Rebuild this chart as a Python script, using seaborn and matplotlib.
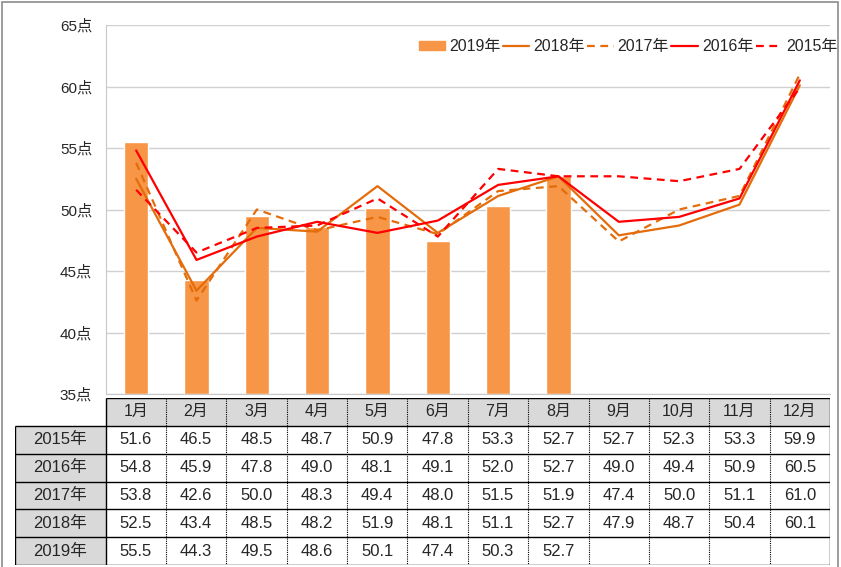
import numpy as np
import pandas as pd
import matplotlib
matplotlib.use("Agg")
import matplotlib.pyplot as plt
import seaborn as sns
from matplotlib.patches import Patch, Rectangle
from matplotlib.lines import Line2D

months = ["1月", "2月", "3月", "4月", "5月", "6月", "7月", "8月", "9月", "10月", "11月", "12月"]
years = ["2015年", "2016年", "2017年", "2018年", "2019年"]
v2015 = [51.6, 46.5, 48.5, 48.7, 50.9, 47.8, 53.3, 52.7, 52.7, 52.3, 53.3, 59.9]
v2016 = [54.8, 45.9, 47.8, 49.0, 48.1, 49.1, 52.0, 52.7, 49.0, 49.4, 50.9, 60.5]
v2017 = [53.8, 42.6, 50.0, 48.3, 49.4, 48.0, 51.5, 51.9, 47.4, 50.0, 51.1, 61.0]
v2018 = [52.5, 43.4, 48.5, 48.2, 51.9, 48.1, 51.1, 52.7, 47.9, 48.7, 50.4, 60.1]
v2019 = [55.5, 44.3, 49.5, 48.6, 50.1, 47.4, 50.3, 52.7]
yticks = [35, 40, 45, 50, 55, 60, 65]

bar_color = "#F79646"
orange = "#E46C0A"
red = "#FF0000"
dash = (0, (3.5, 2.5))

sns.set_style("white")
plt.rcParams["font.family"] = ["Liberation Sans", "Noto Sans CJK SC", "DejaVu Sans"]

W, H = 841, 567
fig = plt.figure(figsize=(W / 100, H / 100), dpi=100)

def px(x0, y0, x1, y1):
    return [x0 / W, 1 - y1 / H, (x1 - x0) / W, (y1 - y0) / H]

# main chart
ax = fig.add_axes(px(106, 25, 830, 394))
bars = pd.DataFrame({"m": np.arange(len(v2019)), "v": v2019})
sns.barplot(data=bars, x="m", y="v", color=bar_color, width=0.4, saturation=1, ax=ax)
for p in ax.patches:
    p.set_y(35)
    p.set_height(p.get_height() - 35)

x = np.arange(12)
sns.lineplot(x=x, y=v2018, color=orange, lw=1.6, ax=ax)
sns.lineplot(x=x, y=v2017, color=orange, lw=1.6, ls=dash, ax=ax)
sns.lineplot(x=x, y=v2016, color=red, lw=1.6, ax=ax)
sns.lineplot(x=x, y=v2015, color=red, lw=1.6, ls=dash, ax=ax)

ax.set_xlim(-0.5, 11.5)
ax.set_ylim(35, 65)
ax.set_yticks(yticks)
ax.set_yticklabels([f"{t}点" for t in yticks], fontsize=11)
ax.set_xticks([])
ax.set_xlabel("")
ax.set_ylabel("")
ax.tick_params(axis="y", length=0, pad=10)
ax.grid(axis="y", color="#D0D0D0", lw=1)
ax.set_axisbelow(True)
for s in ["top", "right"]:
    ax.spines[s].set_visible(False)
for s in ["left", "bottom"]:
    ax.spines[s].set_color("#C8C8C8")

handles = [
    Patch(color=bar_color),
    Line2D([], [], color=orange, lw=1.6),
    Line2D([], [], color=orange, lw=1.6, ls=dash),
    Line2D([], [], color=red, lw=1.6),
    Line2D([], [], color=red, lw=1.6, ls=dash),
]
fig.legend(handles, ["2019年", "2018年", "2017年", "2016年", "2015年"],
           loc="center left", bbox_to_anchor=(419 / W, 1 - 47 / H), ncol=5,
           frameon=False, fontsize=11.5, handlelength=1.65, handletextpad=0.25,
           columnspacing=0.15, handleheight=0.5, borderpad=0, borderaxespad=0)

# data table
at = fig.add_axes(px(15, 398, 830, 565))
at.set_xlim(-2, 11.5)
at.set_ylim(6, 0)
at.axis("off")
at.add_patch(Rectangle((-0.5, 0), 12, 1, color="#D9D9D9", lw=0))
at.add_patch(Rectangle((-2, 1), 1.5, 5, color="#D9D9D9", lw=0))

at.hlines(0, -0.5, 11.5, color="black", lw=1)
at.hlines([1, 2, 3, 4, 5, 6], -2, 11.5, color="black", lw=1)
at.vlines(-2, 1, 6, color="black", lw=1)
at.vlines([-0.5, 11.5], 0, 6, color="black", lw=1)
at.vlines(np.arange(0.5, 11, 1), 0, 6, color="black", lw=0.8, ls=(0, (1, 1)))

for i, m in enumerate(months):
    at.text(i, 0.5, m, ha="center", va="center", fontsize=11.5)

rows = [v2015, v2016, v2017, v2018, v2019]
for r, (yr, vals) in enumerate(zip(years, rows)):
    at.text(-1.25, r + 1.5, yr, ha="center", va="center", fontsize=12)
    for i, v in enumerate(vals):
        at.text(i, r + 1.5, f"{v:.1f}", ha="center", va="center", fontsize=12)

# outer frame
fig.add_artist(Rectangle((2 / W, -0.01), 836 / W, 1 - 2 / H + 0.01,
                         transform=fig.transFigure, fill=False,
                         edgecolor="#8C8C8C", lw=1.2))

fig.savefig("out.png", dpi=100)
